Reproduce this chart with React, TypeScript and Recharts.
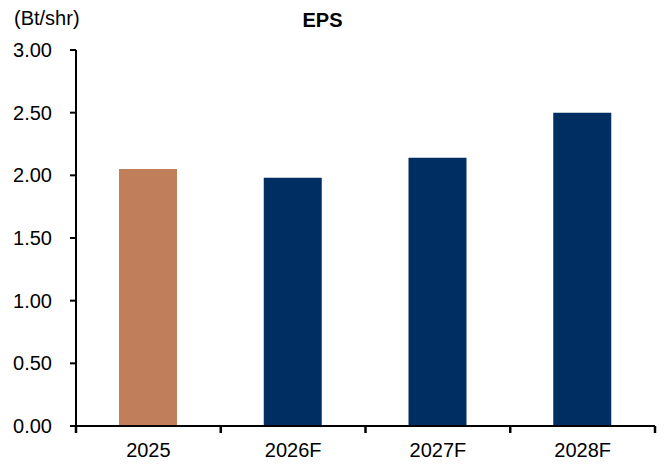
import { BarChart, Bar, XAxis, YAxis, Cell } from "recharts"

const years = ["2025", "2026F", "2027F", "2028F"]
const eps = [2.05, 1.98, 2.14, 2.5]
const yTicks = [0, 0.5, 1, 1.5, 2, 2.5, 3]

const ACTUAL = "#C07E5A"
const FORECAST = "#002D62"
const FONT = "'Liberation Sans', Arial, sans-serif"
const X_TICK_MARGIN = 11

const data = years.map((year, i) => ({ year, eps: eps[i] }))

// category ticks sit between the bars, not under them
function XTick(props: any) {
  const { x, y, payload, index } = props
  const half = payload?.offset ?? 72
  const top = y - 6 - X_TICK_MARGIN
  return (
    <g>
      <line x1={x - half} x2={x - half} y1={top} y2={top + 7} stroke="#000" strokeWidth={2.5} />
      {index === years.length - 1 && (
        <line x1={x + half} x2={x + half} y1={top} y2={top + 7} stroke="#000" strokeWidth={2.5} />
      )}
      <text x={x} y={y} dy="0.71em" textAnchor="middle" fontSize={20} fontFamily={FONT} fill="#000">
        {payload.value}
      </text>
    </g>
  )
}

export default function App() {
  return (
    <div style={{ position: "absolute", left: 0, top: 0, width: 667, height: 464, background: "#fff" }}>
      <BarChart
        width={667}
        height={464}
        data={data}
        margin={{ top: 50, right: 12, bottom: 0, left: 0 }}
        barSize={58}
      >
        <text x={322.5} y={27} textAnchor="middle" fontSize={20} fontWeight="bold" fontFamily={FONT} fill="#000">
          EPS
        </text>
        <text x={14} y={25} fontSize={20} fontFamily={FONT} fill="#000">
          (Bt/shr)
        </text>
        <XAxis
          dataKey="year"
          height={38}
          tickLine={false}
          axisLine={{ stroke: "#000", strokeWidth: 2 }}
          tick={<XTick />}
          tickMargin={X_TICK_MARGIN}
          interval={0}
        />
        <YAxis
          width={76}
          domain={[0, 3]}
          ticks={yTicks}
          interval={0}
          tickFormatter={(v: number) => v.toFixed(2)}
          tick={{ fill: "#000", fontSize: 20, fontFamily: FONT }}
          tickSize={6}
          tickMargin={18}
          tickLine={{ stroke: "#000", strokeWidth: 2 }}
          axisLine={{ stroke: "#000", strokeWidth: 2 }}
        />
        <Bar dataKey="eps" isAnimationActive={false}>
          {data.map((d, i) => (
            <Cell key={d.year} fill={i === 0 ? ACTUAL : FORECAST} />
          ))}
        </Bar>
      </BarChart>
    </div>
  )
}
